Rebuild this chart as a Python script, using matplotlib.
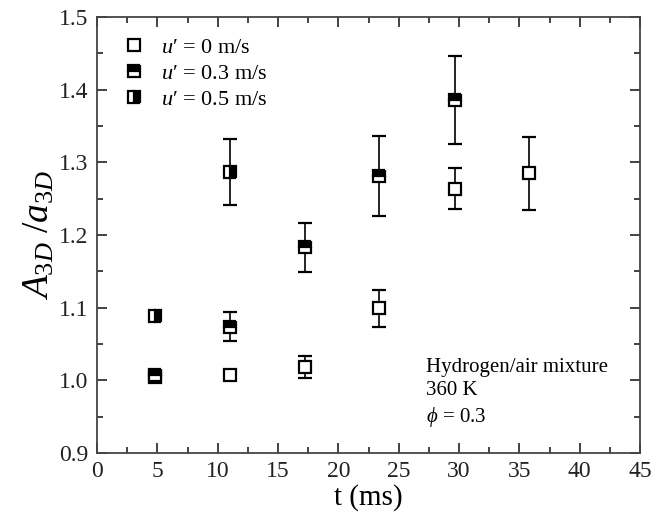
import matplotlib
matplotlib.use('Agg')
import matplotlib.pyplot as plt
from matplotlib.ticker import MultipleLocator

plt.rcParams['font.family'] = ['Liberation Serif', 'DejaVu Serif']
plt.rcParams['mathtext.fontset'] = 'custom'
plt.rcParams['mathtext.rm'] = 'Liberation Serif'
plt.rcParams['mathtext.it'] = 'Liberation Serif:italic'

# u' = 0 m/s
t0 = [4.8, 11.0, 17.2, 23.4, 29.7, 35.8]
a0 = [1.005, 1.008, 1.018, 1.099, 1.264, 1.285]
e0 = [0.0, 0.0, 0.015, 0.025, 0.028, 0.050]

# u' = 0.3 m/s
t3 = [4.8, 11.0, 17.2, 23.4, 29.7]
a3 = [1.008, 1.074, 1.183, 1.281, 1.386]
e3 = [0.0, 0.020, 0.034, 0.055, 0.060]

# u' = 0.5 m/s
t5 = [4.8, 11.0]
a5 = [1.088, 1.287]
e5 = [0.0, 0.045]

labels = ["$u$\u2032 = 0 m/s", "$u$\u2032 = 0.3 m/s", "$u$\u2032 = 0.5 m/s"]

fig = plt.figure(figsize=(6.62, 5.18), dpi=100)
ax = fig.add_axes([0.1465, 0.1255, 0.8205, 0.8415])

common = dict(color='black', ecolor='black', elinewidth=1.2, capsize=5, capthick=1.2,
              marker='s', markersize=9, markeredgewidth=1.6, linestyle='none',
              markerfacecoloralt='white')
c0 = ax.errorbar(t0, a0, yerr=e0, markerfacecolor='white', **common)
c3 = ax.errorbar(t3, a3, yerr=e3, fillstyle='top', markerfacecolor='black', **common)
c5 = ax.errorbar(t5, a5, yerr=e5, fillstyle='right', markerfacecolor='black', **common)

ax.set_xlim(0, 45)
ax.set_ylim(0.9, 1.5)
ax.xaxis.set_major_locator(MultipleLocator(5))
ax.xaxis.set_minor_locator(MultipleLocator(2.5))
ax.yaxis.set_major_locator(MultipleLocator(0.1))
ax.yaxis.set_minor_locator(MultipleLocator(0.05))
ax.yaxis.set_major_formatter(plt.FormatStrFormatter('%.1f'))
ax.tick_params(which='both', direction='in', top=True, right=True, width=1.2, labelsize=17, colors='#222222')
ax.tick_params(which='major', length=7, pad=6)
ax.tick_params(which='minor', length=4)
for s in ax.spines.values():
    s.set_linewidth(1.3)
    s.set_color('#444444')

ax.set_xlabel('t (ms)', fontsize=21, labelpad=1)
ax.set_ylabel('$A_{3D}$ /$a_{3D}$', fontsize=27, labelpad=2)

ax.legend([c0[0], c3[0], c5[0]], labels, loc='upper left', frameon=False, fontsize=16,
          handletextpad=0.5, borderaxespad=0.5, labelspacing=0.25, handlelength=1.5)

ax.text(0.605, 0.055, 'Hydrogen/air mixture\n360 K\n$\\phi$ = 0.3', transform=ax.transAxes,
        fontsize=15, va='bottom', ha='left', linespacing=1.3)

plt.savefig('out.png', dpi=100)
